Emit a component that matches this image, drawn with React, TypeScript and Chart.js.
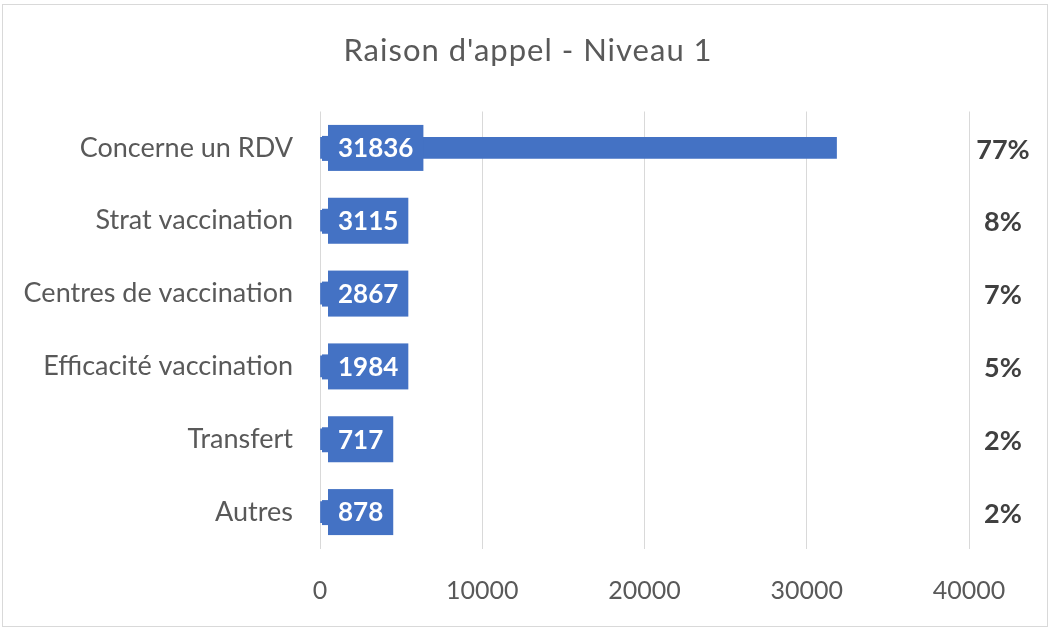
import React, { useEffect, useRef } from "react";
import { Chart, registerables } from "chart.js";

Chart.register(...registerables);

const titleText = "Raison d'appel - Niveau 1";
const categories = [
  "Concerne un RDV",
  "Strat vaccination",
  "Centres de vaccination",
  "Efficacité vaccination",
  "Transfert",
  "Autres",
];
const values = [31836, 3115, 2867, 1984, 717, 878];
const shares = ["77%", "8%", "7%", "5%", "2%", "2%"];
const xMin = 0;
const xMax = 40000;
const xStep = 10000;

const FONT = "Lato, 'Open Sans', sans-serif";
const BLUE = "#4472C4";
const GRAY = "#595959";

const decorPlugin = {
  id: "decor",
  beforeDraw(chart: any) {
    const ctx = chart.ctx;
    ctx.save();
    ctx.fillStyle = "#ffffff";
    ctx.fillRect(0, 0, chart.width, chart.height);
    ctx.strokeStyle = "#d9d9d9";
    ctx.lineWidth = 1;
    ctx.strokeRect(2.5, 4.5, chart.width - 3, chart.height - 8);
    ctx.fillStyle = GRAY;
    ctx.font = `31px ${FONT}`;
    try {
      (ctx as any).letterSpacing = "1px";
    } catch (e) {}
    ctx.textAlign = "center";
    ctx.textBaseline = "middle";
    ctx.fillText(titleText, 528, 51);
    try {
      (ctx as any).letterSpacing = "0px";
    } catch (e) {}
    ctx.restore();
  },
  afterDatasetsDraw(chart: any) {
    const ctx = chart.ctx;
    const meta = chart.getDatasetMeta(0);
    const xScale = chart.scales.x;
    const x0 = xScale.getPixelForValue(0);
    ctx.save();
    meta.data.forEach((el: any, i: number) => {
      const label = String(values[i]);
      ctx.font = `bold 26px ${FONT}`;
      const w = ctx.measureText(label).width;
      const left = x0 + 8;
      const right = left + w + 20;
      const y = el.y;
      ctx.fillStyle = BLUE;
      ctx.fillRect(x0 + 2, y - 12, 8, 25);
      ctx.fillRect(left, y - 23, right - left, 46);
      ctx.fillStyle = "#ffffff";
      ctx.textAlign = "left";
      ctx.textBaseline = "middle";
      ctx.fillText(label, left + 10, y + 1);

      ctx.fillStyle = "#404040";
      ctx.font = `bold 27px ${FONT}`;
      ctx.textAlign = "center";
      ctx.fillText(shares[i], 1003, y + 2);
    });
    ctx.restore();
  },
};

export default function App() {
  const ref = useRef<HTMLCanvasElement>(null);
  useEffect(() => {
    if (!ref.current) return;
    const chart = new Chart(ref.current, {
      type: "bar",
      data: {
        labels: categories,
        datasets: [
          {
            data: values,
            backgroundColor: BLUE,
            barThickness: 21,
          },
        ],
      },
      options: {
        indexAxis: "y",
        responsive: false,
        animation: false,
        layout: { padding: { left: 0, right: 79, top: 111.5, bottom: 0 } },
        plugins: {
          legend: { display: false },
          title: { display: false },
          tooltip: { enabled: false },
        },
        scales: {
          x: {
            min: xMin,
            max: xMax,
            afterFit: (s: any) => {
              s.height = 81.5;
            },
            ticks: {
              stepSize: xStep,
              autoSkip: false,
              maxRotation: 0,
              color: GRAY,
              font: { family: FONT, size: 25 },
              padding: 27,
              callback: (v: any) => String(v),
            },
            grid: { color: "#d9d9d9", lineWidth: 1, drawTicks: false },
            border: { display: false },
          },
          y: {
            afterFit: (s: any) => {
              s.width = 320;
            },
            ticks: {
              color: GRAY,
              font: { family: FONT, size: 27 },
              padding: 27,
              autoSkip: false,
            },
            grid: { display: false, drawTicks: false },
            border: { display: false },
          },
        },
      },
      plugins: [decorPlugin],
    });
    return () => chart.destroy();
  }, []);
  return (
    <div style={{ position: "fixed", left: 0, top: 0, width: 1048, height: 630 }}>
      <canvas ref={ref} width={1048} height={630} />
    </div>
  );
}
